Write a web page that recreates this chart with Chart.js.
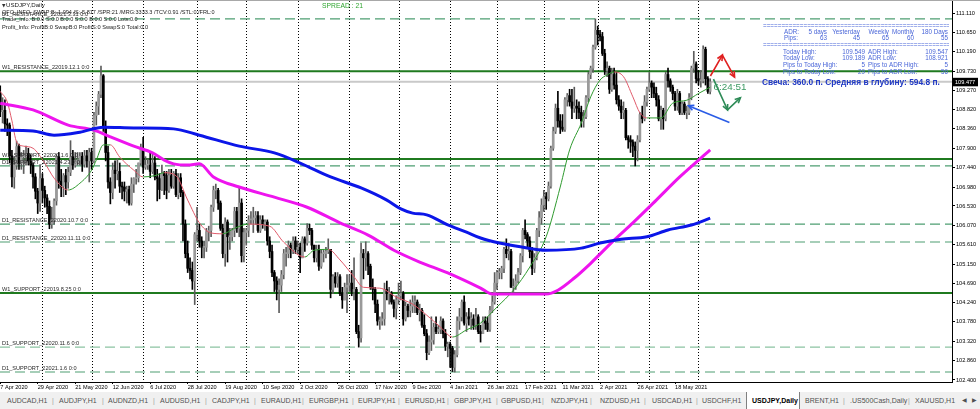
<!DOCTYPE html>
<html><head><meta charset="utf-8"><title>USDJPY,Daily</title>
<script src="https://cdn.jsdelivr.net/npm/chart.js@4.4.1/dist/chart.umd.min.js"></script>
<style>
html,body{margin:0;padding:0;background:#fff;}
body{width:980px;height:409px;overflow:hidden;position:relative;font-family:"Liberation Sans",Arial,sans-serif;}
#wrap{position:absolute;left:0;top:0;width:980px;height:392px;}
#tabs{position:absolute;left:0;top:392px;width:980px;height:17px;background:#f0f0f0;}
#tabs span{position:absolute;top:4px;font-size:7px;line-height:9px;color:#505050;white-space:nowrap;}
#tabs .sep{color:#a0a0a0;}
#tabs .actbox{position:absolute;top:0;height:17px;background:#fff;border-left:1px solid #808080;border-right:1px solid #808080;}
#tabs .act{color:#000;font-weight:bold;}
</style></head><body>
<div id="wrap"><canvas id="chart"></canvas></div>
<div id="tabs"></div>
<script>
// ---------------- DATA ----------------
const symbol = 'USDJPY,Daily';
const tickIdx = [0,16,32,48,64,80,96,112,128,144,160,176,192,208,224,240,256,272,288];
const tickLabels = ['7 Apr 2020','29 Apr 2020','21 May 2020','12 Jun 2020','6 Jul 2020','28 Jul 2020','19 Aug 2020','10 Sep 2020','2 Oct 2020','26 Oct 2020','17 Nov 2020','9 Dec 2020','4 Jan 2021','26 Jan 2021','17 Feb 2021','11 Mar 2021','2 Apr 2021','26 Apr 2021','18 May 2021'];
const monthStartIdx = [18,39,61,84,105,127,149,170,192,212,232,255,277,298];
const priceTicks = [111.110,110.650,110.190,109.730,109.270,108.820,108.360,107.900,107.440,106.980,106.530,106.070,105.610,105.150,104.690,104.240,103.780,103.320,102.860,102.400];

const open = [
109.20,108.77,108.80,108.48,108.45,107.72,107.22,107.50,107.94,107.54,107.70,107.70,107.78,107.60,107.50,107.22,106.88,106.60,
107.18,106.90,106.72,106.52,106.10,106.20,106.65,107.70,107.12,107.00,107.25,107.10,107.33,107.70,107.50,107.60,107.62,107.71,107.52,107.72,107.60,
107.80,107.60,108.68,108.90,109.18,109.62,108.42,107.80,107.10,106.85,107.38,107.30,107.35,107.00,106.98,106.88,106.92,106.60,107.05,107.18,107.20,107.55,
107.90,107.45,107.50,107.50,107.35,107.55,107.22,107.18,106.92,107.30,107.25,106.90,107.25,107.00,107.30,106.80,107.20,106.85,106.10,105.40,105.05,105.00,104.75,
105.85,105.95,105.70,105.55,105.55,105.92,105.95,106.50,106.90,106.90,106.60,106.00,105.40,106.15,105.80,105.80,105.95,106.40,106.00,106.60,105.35,
105.90,105.95,106.20,106.20,106.25,106.30,105.95,106.20,106.10,106.15,105.70,105.45,104.95,104.75,104.55,104.65,104.90,105.40,105.40,105.60,105.50,105.70,
105.50,105.55,105.30,105.75,105.65,106.00,105.95,105.60,105.30,105.50,105.10,105.40,105.40,105.45,105.50,104.55,104.85,104.70,104.85,104.45,104.30,104.60,
104.65,104.70,104.50,104.55,103.55,103.40,105.40,105.30,105.40,105.10,104.60,104.55,104.20,103.80,103.80,103.85,104.55,104.45,104.45,104.25,104.10,
104.30,104.40,104.45,103.85,104.15,104.05,104.15,104.25,104.25,104.00,104.05,103.70,103.50,103.05,103.30,103.35,103.65,103.55,103.60,103.80,103.50,103.20,
103.25,103.15,102.70,103.00,103.80,103.90,104.25,103.75,103.90,103.85,103.85,103.70,103.90,103.55,103.50,103.80,103.75,103.60,104.05,104.25,
104.70,104.95,104.95,105.05,105.50,105.40,105.45,104.60,104.60,104.75,104.95,105.35,105.95,105.85,105.70,105.45,105.05,105.30,105.95,106.25,
106.55,106.75,106.70,107.00,107.90,108.30,108.85,108.55,108.40,108.35,109.05,109.15,109.00,108.85,108.90,108.85,108.75,108.55,108.65,109.10,109.65,109.80,110.30,
110.70,110.60,110.55,110.15,109.75,109.80,109.30,109.65,109.40,109.05,108.90,108.75,108.80,108.15,108.10,108.05,107.95,107.85,108.10,108.70,108.60,109.00,
109.30,109.45,109.35,109.20,109.05,108.60,108.80,108.60,109.65,109.50,109.35,109.20,108.90,109.20,108.75,108.95,108.75,108.75,109.10,109.80,109.90,
109.55,109.50,109.50,110.25,109.55,109.25];
const high = [
109.38,109.10,109.05,108.60,108.50,107.85,107.70,108.07,108.00,107.80,107.85,107.95,107.90,107.75,107.55,107.30,106.95,107.50,
107.30,107.00,106.80,106.65,106.50,106.70,107.75,107.80,107.40,107.30,107.40,107.45,108.08,107.85,107.80,107.80,107.80,107.80,107.85,107.85,107.90,
107.90,108.75,109.00,109.25,109.85,109.65,108.55,107.95,107.20,107.55,107.60,107.65,107.55,107.10,107.10,107.00,107.00,107.20,107.20,107.40,107.55,108.00,
108.16,107.70,107.65,107.80,107.80,107.70,107.40,107.30,107.50,107.35,107.35,107.40,107.40,107.35,107.40,107.30,107.30,106.90,106.20,105.70,105.30,105.20,105.90,
106.50,106.10,105.80,105.70,106.00,106.05,106.55,107.00,107.05,106.95,106.65,106.10,106.25,106.20,106.00,106.00,106.50,106.50,106.95,106.70,106.00,
106.00,106.30,106.40,106.50,106.40,106.40,106.30,106.30,106.20,106.20,105.80,105.60,105.00,104.85,104.80,105.00,105.50,105.55,105.70,105.65,105.80,105.80,
105.70,105.65,105.80,105.80,106.11,106.10,106.00,105.60,105.60,105.60,105.50,105.50,105.55,105.75,105.50,104.90,104.95,104.95,104.90,104.60,104.70,104.90,
104.90,105.00,105.30,104.60,103.70,105.65,105.50,105.68,105.45,105.15,104.80,104.60,104.30,103.90,104.00,104.70,104.75,104.60,104.50,104.30,104.40,
104.70,104.75,104.50,104.25,104.20,104.30,104.40,104.40,104.30,104.20,104.10,103.95,103.60,103.45,103.90,103.75,103.90,103.70,103.90,103.85,103.60,103.30,
103.30,103.20,103.10,103.90,104.10,104.30,104.40,104.00,104.10,104.00,103.95,104.10,103.95,103.70,103.90,103.90,103.90,104.15,104.40,104.95,
105.00,105.05,105.10,105.55,105.75,105.65,105.50,104.80,104.90,105.05,105.40,106.00,106.20,105.90,105.80,105.55,105.40,106.00,106.40,106.70,
106.90,106.85,107.10,107.95,108.40,108.95,109.25,108.70,108.70,109.10,109.20,109.30,109.30,109.35,109.05,109.00,108.90,108.80,109.15,109.70,109.85,110.35,110.97,
110.80,110.70,110.65,110.25,109.95,109.85,109.80,109.80,109.70,109.15,109.05,109.00,108.85,108.20,108.20,108.10,108.05,108.20,108.75,108.90,109.15,109.35,
109.70,109.50,109.45,109.35,109.15,108.90,108.85,109.70,109.80,109.55,109.40,109.25,109.30,109.25,109.00,109.00,108.90,109.20,109.85,110.20,109.95,
109.75,109.75,110.33,110.30,109.60,109.549];
const low = [
108.65,108.50,108.30,108.20,107.55,106.98,106.95,107.40,107.40,107.40,107.30,107.50,107.50,107.30,106.95,106.70,106.35,106.40,
106.60,106.50,106.35,105.99,106.00,106.10,106.55,106.95,106.75,106.75,106.80,106.95,107.25,107.40,107.45,107.50,107.50,107.35,107.45,107.45,107.10,
107.40,107.55,108.45,108.70,109.10,108.30,107.60,106.95,106.58,106.70,106.95,107.15,106.85,106.70,106.65,106.60,106.55,106.55,106.85,107.05,107.10,107.50,
107.30,107.40,107.40,107.20,107.30,107.15,106.65,106.70,106.90,106.80,106.70,106.85,106.95,106.95,106.75,106.70,106.75,105.70,105.30,104.95,104.80,104.55,104.19,
105.70,105.55,105.30,105.30,105.45,105.70,105.80,106.40,106.70,106.45,105.95,105.30,105.10,105.20,105.50,105.70,105.80,105.90,105.80,105.20,105.20,
105.60,105.80,106.10,105.90,106.10,105.90,105.90,106.00,105.95,105.60,105.30,104.85,104.50,104.30,104.00,104.50,104.80,105.10,105.30,105.30,105.40,105.40,
105.40,104.95,105.30,105.45,105.60,105.85,105.50,105.20,105.20,105.00,105.05,105.20,105.30,105.40,104.35,104.45,104.60,104.60,104.40,104.10,104.30,104.00,
104.50,104.40,104.30,103.50,103.18,103.30,104.80,105.00,104.90,104.55,104.30,104.00,103.70,103.60,103.70,103.70,104.30,104.20,104.20,103.90,103.85,
104.20,104.30,103.70,103.80,103.90,103.90,104.00,104.00,103.95,103.80,103.65,103.45,102.88,103.00,103.10,103.25,103.50,103.50,103.50,103.40,103.10,102.95,
102.70,102.60,102.59,102.95,103.60,103.80,103.70,103.55,103.70,103.60,103.60,103.60,103.50,103.30,103.50,103.60,103.55,103.55,104.00,104.20,
104.55,104.80,104.80,104.95,105.30,105.25,104.60,104.50,104.55,104.70,104.90,105.20,105.75,105.55,105.30,104.90,104.95,105.25,105.80,106.10,
106.40,106.45,106.65,106.95,107.85,108.25,108.40,108.25,108.30,108.30,108.90,108.90,108.60,108.75,108.60,108.60,108.40,108.40,108.60,109.00,109.55,109.70,110.25,
110.35,110.45,110.10,109.65,109.60,109.20,109.25,109.30,108.95,108.80,108.60,108.60,108.10,107.90,107.80,107.70,107.48,107.60,108.05,108.50,108.55,108.90,
109.25,109.10,109.10,108.90,108.55,108.35,108.35,108.55,109.35,109.25,109.05,108.80,108.80,108.70,108.70,108.70,108.60,108.70,109.05,109.70,109.45,
109.40,109.35,109.45,109.40,109.20,109.189];
const close = [
108.77,108.80,108.48,108.45,107.72,107.22,107.50,107.94,107.54,107.70,107.70,107.78,107.60,107.50,107.22,106.88,106.60,107.18,
106.90,106.72,106.52,106.10,106.20,106.65,107.70,107.12,107.00,107.25,107.10,107.33,107.70,107.50,107.60,107.62,107.71,107.52,107.72,107.60,107.80,
107.60,108.68,108.90,109.18,109.62,108.42,107.80,107.10,106.85,107.38,107.30,107.35,107.00,106.98,106.88,106.92,106.60,107.05,107.18,107.20,107.55,107.90,
107.45,107.50,107.50,107.35,107.55,107.22,107.18,106.92,107.30,107.25,106.90,107.25,107.00,107.30,106.80,107.20,106.85,106.10,105.40,105.05,105.00,104.75,105.85,
105.95,105.70,105.55,105.55,105.92,105.95,106.50,106.90,106.90,106.60,106.00,105.40,106.15,105.80,105.80,105.95,106.40,106.00,106.60,105.35,105.90,
105.95,106.20,106.20,106.25,106.30,105.95,106.20,106.10,106.15,105.70,105.45,104.95,104.75,104.55,104.65,104.90,105.40,105.40,105.60,105.50,105.70,105.50,
105.55,105.30,105.75,105.65,106.00,105.95,105.60,105.30,105.50,105.10,105.40,105.40,105.45,105.50,104.55,104.85,104.70,104.85,104.45,104.30,104.60,104.65,
104.70,104.50,104.55,103.55,103.40,105.40,105.30,105.40,105.10,104.60,104.55,104.20,103.80,103.80,103.85,104.55,104.45,104.45,104.25,104.10,104.30,
104.40,104.45,103.85,104.15,104.05,104.15,104.25,104.25,104.00,104.05,103.70,103.50,103.05,103.30,103.35,103.65,103.55,103.60,103.80,103.50,103.20,103.25,
103.15,102.70,103.00,103.80,103.90,104.25,103.75,103.90,103.85,103.85,103.70,103.90,103.55,103.50,103.80,103.75,103.60,104.05,104.25,104.70,
104.95,104.95,105.05,105.50,105.40,105.45,104.60,104.60,104.75,104.95,105.35,105.95,105.85,105.70,105.45,105.05,105.30,105.95,106.25,106.55,
106.75,106.70,107.00,107.90,108.30,108.85,108.55,108.40,108.35,109.05,109.15,109.00,108.85,108.90,108.85,108.75,108.55,108.65,109.10,109.65,109.80,110.30,110.70,
110.60,110.55,110.15,109.75,109.80,109.30,109.65,109.40,109.05,108.90,108.75,108.80,108.15,108.10,108.05,107.95,107.85,108.10,108.70,108.60,109.00,109.30,
109.45,109.35,109.20,109.05,108.60,108.80,108.60,109.65,109.50,109.35,109.20,108.90,109.20,108.75,108.95,108.75,108.75,109.10,109.80,109.90,109.55,
109.50,109.50,110.25,109.55,109.25,109.477];

// moving averages (bar index, price)
const maFastIdx = [0,3,5,7,10,14,19,23,29,34,39,41,44,47,51,57,61,66,70,75,80,85,90,95,100,106,115,121,130,134,140,145,151,155,162,169,176,182,188,193,199,205,212,219,226,233,239,243,248,252,256,259,262,266,270,273,276,282,287,293,298,303];
const maFastVal = [109.25,109.00,108.55,108.05,107.95,107.90,107.55,107.19,106.91,107.07,107.38,107.62,107.98,107.98,107.69,107.38,107.22,107.25,107.32,107.25,106.67,106.13,105.89,105.87,106.00,106.10,106.05,105.67,105.32,105.48,105.50,105.25,104.85,104.60,104.58,104.37,104.20,103.94,103.65,103.42,103.59,103.75,104.13,104.53,105.08,105.80,106.98,107.86,108.50,109.12,109.52,109.64,109.71,109.60,109.12,108.74,108.62,108.62,108.97,109.04,109.20,109.35];
const maMidIdx = [0,14,29,40,47,57,65,70,74,80,85,91,102,117,131,145,157,168,179,191,205,210,233,238,245,252,262,270,280,290,303];
const maMidVal = [108.97,108.81,108.45,108.33,108.17,107.95,107.79,107.62,107.53,107.50,107.53,107.22,106.98,106.74,106.50,106.13,105.84,105.48,105.20,104.94,104.58,104.44,104.44,104.53,104.82,105.17,105.72,106.13,106.67,107.22,107.86];
const maSlowIdx = [0,14,23,34,44,57,74,85,102,117,128,141,154,165,171,176,182,191,199,205,213,222,233,248,256,265,276,285,295,303];
const maSlowVal = [108.33,108.31,108.21,108.28,108.40,108.38,108.36,108.21,107.95,107.79,107.55,107.22,106.96,106.67,106.46,106.36,106.32,106.08,105.91,105.77,105.65,105.56,105.48,105.53,105.65,105.74,105.80,105.96,106.08,106.24];

// support / resistance levels
const levelNames = ['D1_RESISTANCE_22021.3.31 0:0','W1_RESISTANCE_22019.12.1 0:0','W1_SUPPORT_22020.1.6 0:0','D1_SUPPORT_22021.4.23 0:0','D1_RESISTANCE_22020.10.7 0:0','D1_RESISTANCE_22020.11.11 0:0','W1_SUPPORT_22019.8.25 0:0','D1_SUPPORT_22020.11.6 0:0','D1_SUPPORT_22021.1.6 0:0'];
const levelPrices = [110.97,109.73,107.645,107.48,106.10,105.675,104.465,103.18,102.59];
const bid = 109.477;

// info panel
const adrHeads = ['5 days','Yesterday','Weekly','Monthly','180 Days'];
const adrPips = [63,45,65,60,55];
const todayHigh = 109.549, todayLow = 109.189, adrHigh = 109.547, adrLow = 108.921;
const pipsToTodayHigh = 5, pipsToTodayLow = 29, pipsToAdrHigh = 5, pipsToAdrLow = 56;
const candlePips = 360.0, avgDepth = 594.8, spread = 21, timer = '6:24:51';
// hand-drawn arrows (bar index, price)
const arrowRed = [[303.1,109.615],[308.2,110.11],[313.4,109.59]];
const arrowGreen = [[304.4,109.54],[310.4,108.81],[315.9,109.10]];
const arrowBlue = [[311.2,108.51],[293.7,108.91]];

const tabNames = ['AUDCAD,H1','AUDJPY,H1','AUDNZD,H1','AUDUSD,H1','CADJPY,H1','EURAUD,H1','EURGBP,H1','EURJPY,H1','EURUSD,H1','GBPJPY,H1','GBPUSD,H1','NZDJPY,H1','NZDUSD,H1','USDCAD,H1','USDCHF,H1','USDJPY,Daily','BRENT,H1','.US500Cash,Daily','XAUUSD,H1'];

// ---------------- TABS (window chrome) ----------------
(function(){
  const tx = [7,59,108,160,212,261,309,358,405,454,501,551,600,652,702,752,805,850,915];
  const sx = [52,102,153,205,254,302,352,398,447,496,542,590,644,696,843,908];
  const t = document.getElementById('tabs');
  let h = '<div class="actbox" style="left:746px;width:52px"></div>';
  tabNames.forEach((n,i)=>{ h += '<span class="'+(n===symbol?'act':'')+'" style="left:'+tx[i]+'px">'+n+'</span>'; });
  sx.forEach(x=>{ h += '<span class="sep" style="left:'+x+'px">|</span>'; });
  h += '<span style="left:962px;font-size:6px">&#9664;</span><span style="left:972px;font-size:6px">&#9654;</span>';
  t.innerHTML = h;
})();

// ---------------- CHART ----------------
const N = close.length;
const bullBody = '#9a9a9a', bearBody = '#000000', bullWick = '#5c5c5c', bearWick = '#000000';
const isBull = i => close[i] >= open[i];
const wickData = close.map((c,i)=>({x:i, y:[low[i], high[i]]}));
const bodyData = close.map((c,i)=>({x:i, y:[open[i], c]}));
const pts = (ix, v) => ix.map((x,i)=>({x:x, y:v[i]}));

const X_MIN = -0.1, X_MAX = 406.2, Y_MIN = 102.3525, Y_MAX = 111.395;

const levelDatasets = levelNames.map((n,i)=>({
  type:'line', order:5,
  data:[{x:X_MIN,y:levelPrices[i]},{x:X_MAX,y:levelPrices[i]}],
  borderColor: n.startsWith('W1') ? '#1f7a1f' : (n.indexOf('2020.11.6')>0 ? '#8cc4a2' : '#4e9e72'),
  borderWidth: n.startsWith('W1') ? 2 : 1.2,
  borderDash: n.startsWith('W1') ? [] : [10,5],
  pointRadius:0, tension:0
}));

function T(ctx, s, x, y, font, color, align){
  ctx.font = font; ctx.fillStyle = color; ctx.textAlign = align||'left'; ctx.textBaseline='middle';
  ctx.fillText(s, x, y);
}
function fitFont(ctx, s, w, weight){
  ctx.font = (weight||'') + ' 10px "Liberation Sans"';
  const m = ctx.measureText(s).width;
  return (weight||'') + ' ' + (10*w/m).toFixed(2) + 'px "Liberation Sans"';
}
function arrow(ctx, xs, ys, p, heads, color){
  const P = p.map(q=>[xs.getPixelForValue(q[0]), ys.getPixelForValue(q[1])]);
  ctx.strokeStyle=color; ctx.lineWidth=1.6; ctx.setLineDash([]);
  ctx.beginPath(); ctx.moveTo(P[0][0],P[0][1]); for(let i=1;i<P.length;i++) ctx.lineTo(P[i][0],P[i][1]); ctx.stroke();
  heads.forEach(k=>{
    const a=P[k-1], b=P[k]; const ang=Math.atan2(b[1]-a[1], b[0]-a[0]); const L=6;
    ctx.beginPath();
    ctx.moveTo(b[0]-L*Math.cos(ang-0.45), b[1]-L*Math.sin(ang-0.45));
    ctx.lineTo(b[0],b[1]);
    ctx.lineTo(b[0]-L*Math.cos(ang+0.45), b[1]-L*Math.sin(ang+0.45));
    ctx.stroke();
  });
}

const decor = {
  id:'decor',
  beforeDatasetsDraw(chart){
    const {ctx, chartArea:a, scales:{x}} = chart;
    ctx.save();
    ctx.strokeStyle='#000'; ctx.lineWidth=1; ctx.setLineDash([1,2]);
    monthStartIdx.forEach(i=>{
      const px = Math.round(x.getPixelForValue(i))+0.5;
      ctx.beginPath(); ctx.moveTo(px,a.top); ctx.lineTo(px,a.bottom); ctx.stroke();
    });
    ctx.restore();
  },
  afterDatasetsDraw(chart){
    const {ctx, chartArea:a, scales:{x,y}} = chart;
    ctx.save();
    const f = '5.6px "Liberation Sans"';
    // level labels
    levelNames.forEach((n,i)=>{ T(ctx, n, 2, y.getPixelForValue(levelPrices[i]) - 4, f, '#2a2a2a'); });
    // header texts
    T(ctx, '\u25BC', 2, 5.5, '4.5px "DejaVu Sans"', '#333');
    T(ctx, symbol, 6, 5.5, fitFont(ctx, symbol, 39), '#222');
    const q = 'QFO_INFO_SWAP:B:-1.094 /S:-5.817 /SPR:'+spread+' /MRG:3333.3 /TCV:0.91 /STL:0 /FRL:0';
    T(ctx, q, 2, 12.5, fitFont(ctx, q, 213), '#222');
    const tr = 'Trade_Info: B:0.0 S:0.0 B:0.0 S:0.0 B:0.0 S:0.0 Lots:0.0';
    T(ctx, tr, 2, 19.5, fitFont(ctx, tr, 136), '#222');
    const pr = 'Profit_Info: ProfitB:0 SwapB:0 ProfitS:0 SwapS:0 Total:0.0';
    T(ctx, pr, 2, 27, fitFont(ctx, pr, 146), '#222');
    const sp = 'SPREAD : '+spread;
    T(ctx, sp, 322, 6, fitFont(ctx, sp, 41), '#2fa52f');
    // info panel
    const blue = '#4a66d8', fi = '6.3px "Liberation Sans"';
    const eq = '='.repeat(60);
    ctx.save(); ctx.beginPath(); ctx.rect(763,0,186,100); ctx.clip();
    T(ctx, eq, 763, 26, fi, blue); T(ctx, eq, 763, 45, fi, blue);
    ctx.restore();
    T(ctx, 'ADR:', 784, 32, fi, blue);
    T(ctx, 'Pips:', 784, 38.5, fi, blue);
    const colR = [827,860,889,914,948];
    adrHeads.forEach((h,i)=>{ T(ctx, h, colR[i], 32, fi, blue, 'right'); T(ctx, String(adrPips[i]), colR[i], 38.5, fi, blue, 'right'); });
    const rows = [['Today High:', todayHigh.toFixed(3), 'ADR High:', adrHigh.toFixed(3)],
                  ['Today Low:', todayLow.toFixed(3), 'ADR Low:', adrLow.toFixed(3)],
                  ['Pips to Today High:', String(pipsToTodayHigh), 'Pips to ADR High:', String(pipsToAdrHigh)],
                  ['Pips to Today Low:', String(pipsToTodayLow), 'Pips to ADR Low:', String(pipsToAdrLow)]];
    const ry = [52,58.7,65.2,71.8];
    rows.forEach((r,i)=>{
      T(ctx, r[0], 783, ry[i], fi, blue); T(ctx, r[1], 865, ry[i], fi, blue, 'right');
      T(ctx, r[2], 868, ry[i], fi, blue); T(ctx, r[3], 948, ry[i], fi, blue, 'right');
    });
    const sv = 'Свеча: '+candlePips.toFixed(1)+' п. Средняя в глубину: '+avgDepth.toFixed(1)+' п.';
    T(ctx, sv, 762, 82.5, fitFont(ctx, sv, 178, 'bold'), '#1f38c4');
    // arrows & timer
    arrow(ctx, x, y, arrowRed, [1,2], '#e02020');
    arrow(ctx, x, y, arrowGreen, [1,2], '#2e8b57');
    arrow(ctx, x, y, arrowBlue, [1], '#2a5ce6');
    T(ctx, timer, x.getPixelForValue(304.4), y.getPixelForValue(109.34), fitFont(ctx, timer, 33), '#3c9a62');
    ctx.restore();
  },
  afterDraw(chart){
    const {ctx, chartArea:a, scales:{y}} = chart;
    ctx.save();
    // top window border
    ctx.fillStyle='#a8a8a8'; ctx.fillRect(0,0,980,1);
    // bid price tag on the axis
    const py = y.getPixelForValue(bid);
    ctx.fillStyle='#000'; ctx.fillRect(a.right+1, py-4, 25, 8.5);
    T(ctx, bid.toFixed(3), a.right+3, py+0.3, '5.6px "Liberation Sans"', '#fff');
    ctx.restore();
  }
};

new Chart(document.getElementById('chart'), {
  type:'bar',
  data:{ datasets:[
    {type:'line', order:1, data:pts(maSlowIdx, maSlowVal), borderColor:'#0b16e8', borderWidth:3, pointRadius:0, cubicInterpolationMode:'monotone'},
    {type:'line', order:1, data:pts(maMidIdx, maMidVal), borderColor:'#ee14ee', borderWidth:3, pointRadius:0, cubicInterpolationMode:'monotone'},
    {type:'line', order:1, data:pts(maFastIdx, maFastVal), borderWidth:1, pointRadius:0, cubicInterpolationMode:'monotone',
      borderColor:'#e05a5a',
      segment:{ borderColor: c => c.p1.parsed.y >= c.p0.parsed.y ? '#2f9a2f' : '#e05a6a' }},
    {type:'bar', order:2, data:bodyData, barThickness:2, grouped:false, minBarLength:1, borderWidth:0,
      backgroundColor: c => isBull(c.dataIndex) ? bullBody : bearBody},
    {type:'bar', order:3, data:wickData, barThickness:1, grouped:false, borderWidth:0,
      backgroundColor: c => isBull(c.dataIndex) ? bullWick : bearWick},
    {type:'line', order:4, data:[{x:X_MIN,y:bid},{x:X_MAX,y:bid}], borderColor:'#c9c9c9', borderWidth:2, pointRadius:0},
    ...levelDatasets
  ]},
  options:{
    responsive:true, maintainAspectRatio:false, animation:false, devicePixelRatio:1, events:[],
    layout:{ padding:{top:1,left:0,right:0,bottom:0} },
    plugins:{ legend:{display:false}, tooltip:{enabled:false} },
    scales:{
      x:{ type:'linear', min:X_MIN, max:X_MAX, offset:false,
        grid:{ display:true, drawOnChartArea:false, drawTicks:true, tickLength:2, color:'#000', offset:false },
        border:{ display:true, color:'#000', width:1 },
        ticks:{ autoSkip:false, maxRotation:0, minRotation:0, align:'start', padding:0,
          font:{ family:'"Liberation Sans"', size:5.6 }, color:'#000',
          callback:(v,i)=> tickLabels[i] },
        afterBuildTicks: s => { s.ticks = tickIdx.map(v=>({value:v})); },
        afterFit: s => { s.height = 10; s.paddingLeft = 0; s.paddingRight = 0; }
      },
      y:{ type:'linear', position:'right', min:Y_MIN, max:Y_MAX,
        grid:{ display:true, drawOnChartArea:false, drawTicks:true, tickLength:3, color:'#000' },
        border:{ display:true, color:'#000', width:1 },
        ticks:{ autoSkip:false, padding:1, font:{ family:'"Liberation Sans"', size:5.6 }, color:'#000',
          callback: v => Number(v).toFixed(3) },
        afterBuildTicks: s => { s.ticks = priceTicks.map(v=>({value:v})); },
        afterFit: s => { s.width = 28; s.paddingTop = 0; s.paddingBottom = 0; }
      }
    }
  },
  plugins:[decor]
});
</script></body></html>
